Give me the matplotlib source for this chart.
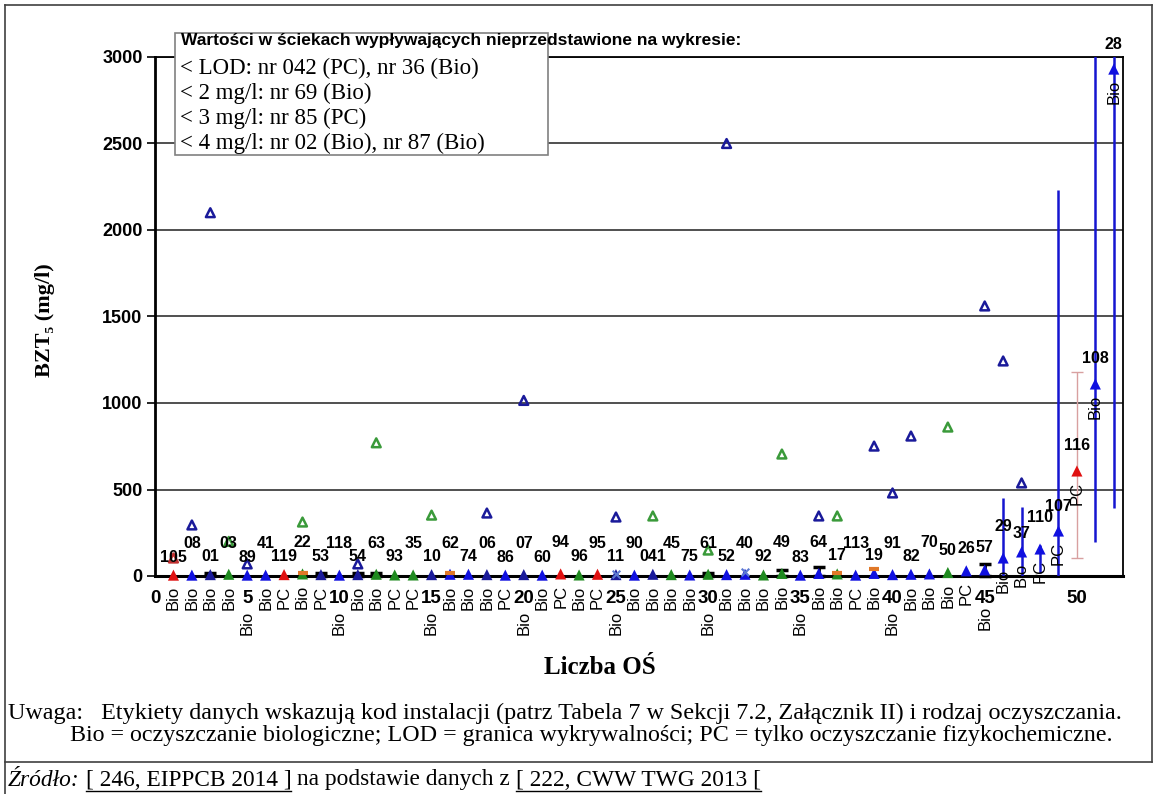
import numpy as np
import matplotlib.pyplot as plt
from matplotlib.patches import Rectangle
from matplotlib.lines import Line2D

W, H = 1157, 794

# installation codes and treatment type, one per plant (x = 1..52)
codes = ['105', '08', '01', '03', '89', '41', '119', '22', '53', '118', '54', '63', '93',
         '35', '10', '62', '74', '06', '86', '07', '60', '94', '96', '95', '11', '90',
         '041', '45', '75', '61', '52', '40', '92', '49', '83', '64', '17', '113', '19',
         '91', '82', '70', '50', '26', '57', '29', '37', '110', '107', '116', '108', '28']
types = ['Bio', 'Bio', 'Bio', 'Bio', 'Bio', 'Bio', 'PC', 'Bio', 'PC', 'Bio', 'Bio', 'Bio', 'PC',
         'PC', 'Bio', 'Bio', 'Bio', 'Bio', 'PC', 'Bio', 'Bio', 'PC', 'Bio', 'PC', 'Bio', 'Bio',
         'Bio', 'Bio', 'Bio', 'Bio', 'Bio', 'Bio', 'Bio', 'Bio', 'Bio', 'Bio', 'Bio', 'PC', 'Bio',
         'Bio', 'Bio', 'Bio', 'Bio', 'PC', 'Bio', 'Bio', 'Bio', 'PC', 'PC', 'PC', 'Bio', 'Bio']
# average effluent BOD5 (mg/l)
effluent = [5, 5, 8, 10, 5, 5, 8, 12, 8, 5, 8, 10, 6, 6, 8, 10, 10, 8, 5, 8, 5, 12, 6, 10, 8, 5,
            10, 8, 6, 10, 8, 10, 6, 15, 5, 15, 12, 5, 15, 8, 10, 12, 20, 30, 35, 104, 139, 156,
            260, 607, 1110, 2930]
marker_col = ['red', 'blue', 'navy', 'green', 'blue', 'blue', 'red', 'green', 'navy', 'blue',
              'navy', 'green', 'green', 'green', 'navy', 'blue', 'blue', 'navy', 'blue', 'navy',
              'blue', 'red', 'green', 'red', 'navy', 'blue', 'navy', 'green', 'blue', 'green',
              'blue', 'blue', 'green', 'green', 'blue', 'blue', 'green', 'blue', 'blue', 'blue',
              'blue', 'blue', 'green', 'blue', 'blue', 'blue', 'blue', 'blue', 'blue', 'red',
              'blue', 'blue']

# maximum values (open triangles)
max_x = [1, 2, 3, 4, 5, 8, 11, 12, 15, 18, 20, 25, 27, 30, 31, 34, 36, 37, 39, 40, 41, 43, 45, 46, 47]
max_val = [104, 295, 2100, 200, 70, 312, 70, 770, 352, 364, 1015, 341, 347, 150, 2500, 705, 347,
           347, 751, 480, 809, 861, 1561, 1243, 538]
max_col = ['red', 'blue', 'blue', 'green', 'blue', 'green', 'blue', 'green', 'green', 'blue',
           'blue', 'blue', 'green', 'green', 'blue', 'green', 'blue', 'green', 'blue', 'blue',
           'blue', 'green', 'blue', 'blue', 'blue']

# min-max ranges of the highest plants
range_x = [46, 47, 48, 49, 51, 52]
range_lo = [0, 0, 20, 0, 197, 393]
range_hi = [450, 400, 180, 2230, 3500, 3500]
# plant 116: min / max
pc_lo, pc_hi = 104, 1180

# small black error bars near zero
cap_x = [3, 9, 11, 12, 30, 34, 36, 45]
cap_top = [20, 15, 15, 15, 20, 35, 50, 70]
# orange / grey secondary markers
orange_x = [8, 16, 37, 39]
orange_val = [15, 15, 15, 40]
xmark_x = [25, 32]
xmark_val = [10, 25]

legend_title = 'Wartości w ściekach wypływających nieprzedstawione na wykresie:'
legend_lines = ['< LOD: nr 042 (PC), nr 36 (Bio)', '< 2 mg/l: nr 69 (Bio)',
                '< 3 mg/l: nr 85 (PC)', '< 4 mg/l: nr 02 (Bio), nr 87 (Bio)']

palette = {'red': '#e01010', 'blue': '#1010e0', 'navy': '#1a1a9a', 'green': '#1f8a1f'}
open_palette = {'red': '#c03030', 'blue': '#1a1a9a', 'green': '#3a9a3a'}

SANS = ['Liberation Sans', 'DejaVu Sans']
SERIF = ['Liberation Serif', 'DejaVu Serif']

fig = plt.figure(figsize=(W / 100, H / 100), dpi=100)
fig.patch.set_facecolor('white')


def fx(x):
    return x / W


def fy(y):
    return 1 - y / H


ax = fig.add_axes([fx(155), fy(576), (1123 - 155) / W, (576 - 57) / H])
ax.set_xlim(0, 52.5)
ax.set_ylim(0, 3000)

for g in range(500, 3001, 500):
    ax.axhline(g, color='#202020', lw=1.1, zorder=1)
for s in ax.spines.values():
    s.set_color('black')
    s.set_linewidth(1.3)
ax.spines['left'].set_linewidth(2)
ax.spines['bottom'].set_linewidth(2.2)

xs = np.arange(1, len(codes) + 1)

# range lines
ax.vlines(range_x, range_lo, range_hi, color='#1515d0', lw=1.8, zorder=3)
ax.errorbar([50], [effluent[49]], yerr=[[effluent[49] - pc_lo], [pc_hi - effluent[49]]],
            fmt='none', ecolor='#d8a0a0', elinewidth=1, capsize=4, zorder=3)
ax.errorbar(cap_x, np.array(cap_top) / 2, yerr=np.array(cap_top) / 2, fmt='none',
            ecolor='black', elinewidth=2, capsize=4, capthick=2.5, zorder=4, clip_on=False)

# maxima
ax.scatter(max_x, max_val, marker='^', s=40, facecolors='none',
           edgecolors=[open_palette[c] for c in max_col], linewidths=1.8, zorder=5)

# averages
ax.scatter(xs, effluent, marker='^', s=64, c=[palette[c] for c in marker_col],
           edgecolors='none', zorder=6, clip_on=False)
ax.scatter(orange_x, orange_val, marker='_', s=50, c='#e07828', linewidths=3, zorder=7,
           clip_on=False)
ax.scatter(xmark_x, xmark_val, marker='x', s=30, c='#5a7ad0', linewidths=1.5, zorder=7,
           clip_on=False)

# data labels: code above, treatment type below
for i, (x, v) in enumerate(zip(xs, effluent)):
    if 43 <= x <= 45:
        up = 16
    elif x >= 49:
        up = 18
    elif x % 2 == 1:
        up = 13
    else:
        up = 22.5
    ax.annotate(codes[i], (x, min(v, 3000)), xytext=(0, up), textcoords='offset points',
                ha='center', va='center', fontsize=11.5, fontweight='bold', family=SANS,
                annotation_clip=False, zorder=8)
    down = 26 if (x % 5 == 0 and v < 50) else 8
    ax.annotate(types[i], (x, min(v, 3000)), xytext=(0, -down), textcoords='offset points',
                ha='center', va='top', rotation=90, fontsize=12, family=SANS,
                annotation_clip=False, zorder=8)

ax.set_xticks(range(0, 51, 5))
ax.set_yticks(range(0, 3001, 500))
ax.tick_params(axis='x', length=0, pad=10, labelsize=13.5)
ax.tick_params(axis='y', length=6, width=1.2, pad=3, labelsize=13)
for lab in ax.get_xticklabels() + ax.get_yticklabels():
    lab.set_fontweight('bold')
    lab.set_family(SANS)

fig.text(fx(45), fy(320), 'BZT₅ (mg/l)', rotation=90, ha='center', va='center',
         fontsize=16, fontweight='bold', family=SERIF)
fig.text(fx(600), fy(667), 'Liczba OŚ', ha='center', va='center',
         fontsize=18, fontweight='bold', family=SERIF)

# box with values not shown on the chart
fig.add_artist(Rectangle((fx(175), fy(155)), (548 - 175) / W, (155 - 33) / H,
                         transform=fig.transFigure, facecolor='white',
                         edgecolor='#808080', lw=1.2, zorder=5))
fig.text(fx(181), fy(41), legend_title, ha='left', va='center', fontsize=12.5,
         fontweight='bold', family=SANS, zorder=6)
for k, line in enumerate(legend_lines):
    fig.text(fx(180), fy(68 + 25 * k), line, ha='left', va='center', fontsize=16.5,
             family=SERIF, zorder=6)

# frame around the chart
frame = dict(color='#404040', lw=1.2, transform=fig.transFigure)
fig.add_artist(Line2D([fx(5), fx(1152)], [fy(5), fy(5)], **frame))
fig.add_artist(Line2D([fx(5), fx(5)], [fy(5), fy(794)], **frame))
fig.add_artist(Line2D([fx(1152), fx(1152)], [fy(5), fy(762)], **frame))
fig.add_artist(Line2D([fx(5), fx(1152)], [fy(762), fy(762)], **frame))

fig.text(fx(8), fy(713), 'Uwaga:   Etykiety danych wskazują kod instalacji (patrz Tabela 7 w Sekcji 7.2, '
         'Załącznik II) i rodzaj oczyszczania.', ha='left', va='center', fontsize=17.4, family=SERIF)
fig.text(fx(70), fy(736), 'Bio = oczyszczanie biologiczne; LOD = granica wykrywalności; '
         'PC = tylko oczyszczanie fizykochemiczne.', ha='left', va='center', fontsize=17.3,
         family=SERIF)

# source line, references underlined
fig.canvas.draw()
renderer = fig.canvas.get_renderer()
parts = [('Źródło:', 'italic', False), (' ', 'normal', False),
         ('[ 246, EIPPCB 2014 ]', 'normal', True), (' na podstawie danych z ', 'normal', False),
         ('[ 222, CWW TWG 2013 [', 'normal', True)]
xpos = 8
for txt, style, under in parts:
    t = fig.text(fx(xpos), fy(780), txt, ha='left', va='center', fontsize=16.8,
                 family=SERIF, style=style)
    bb = t.get_window_extent(renderer)
    if under:
        fig.add_artist(Line2D([fx(xpos), fx(xpos + bb.width)], [fy(791), fy(791)],
                              color='black', lw=1, transform=fig.transFigure))
    xpos += bb.width

fig.savefig('out.png', dpi=100)
